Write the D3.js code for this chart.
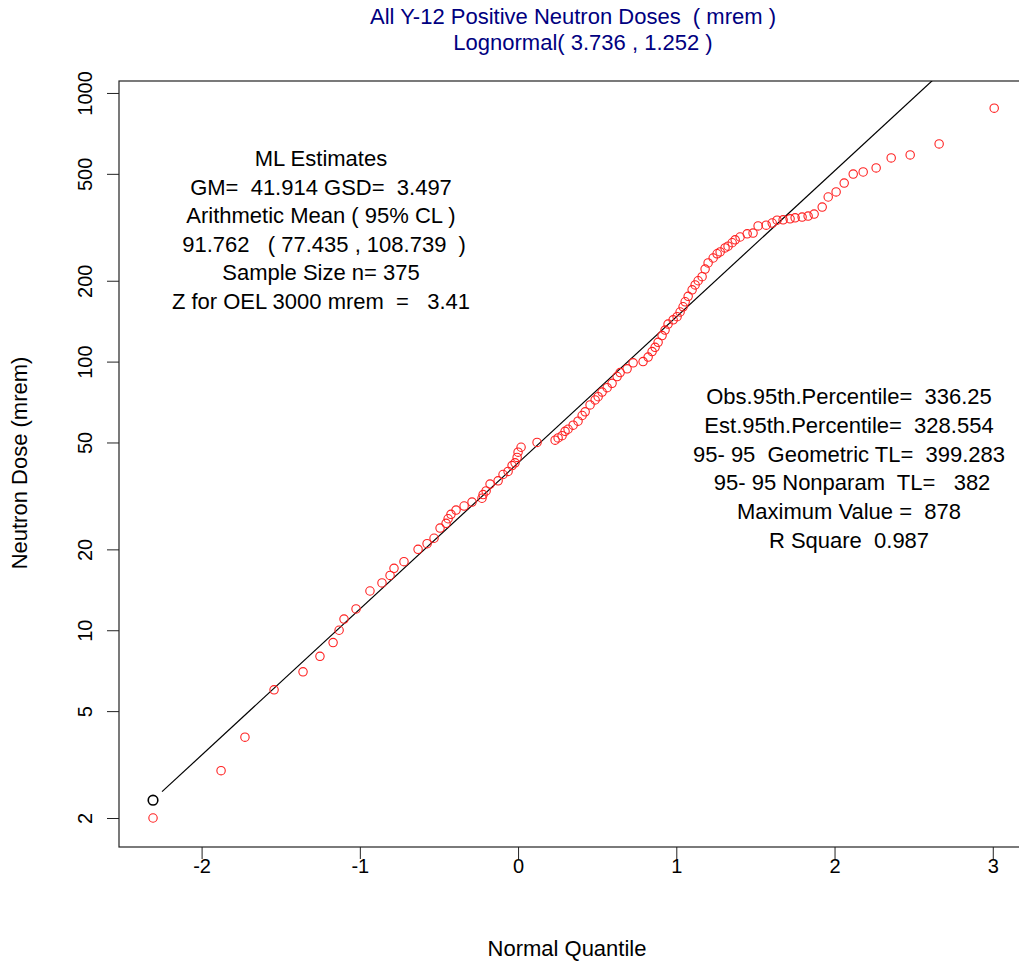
<!DOCTYPE html>
<html>
<head>
<meta charset="utf-8">
<script src="https://cdn.jsdelivr.net/npm/d3@7.9.0/dist/d3.min.js"></script>
<style>
  body { margin: 0; background: #fff; }
  svg { font-family: "Liberation Sans", Arial, sans-serif; }
  text { white-space: pre; }
</style>
</head>
<body>
<svg id="chart" width="1019" height="963"></svg>
<script>
const quantiles = [-2.307, -1.877, -1.726, -1.542, -1.359, -1.252, -1.169, -1.131, -1.100, -1.024,
  -0.936, -0.860, -0.809, -0.784, -0.721, -0.632, -0.575, -0.531, -0.493, -0.455,
  -0.442, -0.424, -0.392, -0.341, -0.291, -0.228, -0.221, -0.202, -0.177, -0.126,
  -0.095, -0.063, -0.038, -0.019, -0.006, 0.000, 0.019, 0.120, 0.234, 0.253,
  0.278, 0.297, 0.316, 0.348, 0.379, 0.405, 0.424, 0.455, 0.487, 0.506,
  0.531, 0.563, 0.594, 0.626, 0.645, 0.689, 0.727, 0.790, 0.822, 0.847,
  0.866, 0.885, 0.910, 0.929, 0.948, 0.980, 1.005, 1.024, 1.043, 1.056,
  1.075, 1.100, 1.119, 1.138, 1.163, 1.182, 1.201, 1.233, 1.258, 1.277,
  1.308, 1.327, 1.353, 1.372, 1.403, 1.448, 1.485, 1.517, 1.568, 1.606,
  1.637, 1.675, 1.719, 1.751, 1.795, 1.833, 1.871, 1.922, 1.960, 2.010,
  2.061, 2.118, 2.181, 2.263, 2.358, 2.478, 2.661, 3.009];
const doses = [2, 3, 4, 6, 7, 8, 9, 10, 11, 12,
  14, 15, 16, 17, 18, 20, 21, 22, 24, 25,
  26, 27, 28, 29, 30, 31, 32, 33, 35, 36,
  38, 39, 41, 42, 44, 46, 48, 50, 51, 52,
  53, 55, 56, 58, 60, 63, 65, 69, 72, 74,
  77, 80, 83, 88, 91, 94, 99, 100, 104, 109,
  113, 118, 125, 131, 138, 143, 147, 153, 160, 167,
  175, 185, 193, 200, 207, 221, 233, 243, 252, 256,
  265, 269, 277, 284, 291, 299, 301, 320, 322, 328,
  336, 337, 340, 343, 345, 348, 354, 376, 410, 428,
  462, 499, 508, 526, 573, 588, 646, 878];

// highlighted first point (black)
const markQuantile = [-2.307];
const markDose = [2.33];

// fitted lognormal (meanlog, sdlog) and range of the fitted line
const fitParams = [3.736, 1.252];
const fitRange = [-2.25, 3.009];

const xTicks = [-2, -1, 0, 1, 2, 3];
const yTicks = [2, 5, 10, 20, 50, 100, 200, 500, 1000];

const titleLines = ["All Y-12 Positive Neutron Doses  ( mrem )", "Lognormal( 3.736 , 1.252 )"];
const leftStats = ["ML Estimates", "GM=  41.914 GSD=  3.497", "Arithmetic Mean ( 95% CL )",
  " 91.762   ( 77.435 , 108.739  )", "Sample Size n= 375", "Z for OEL 3000 mrem  =   3.41"];
const rightStats = ["Obs.95th.Percentile=  336.25", "Est.95th.Percentile=  328.554",
  "95- 95  Geometric TL=  399.283", " 95- 95 Nonparam  TL=   382", "Maximum Value =  878", "R Square  0.987"];

const svg = d3.select("#chart");
const box = { left: 119, right: 1026, top: 81, bottom: 847 };

const x = d3.scaleLinear().domain([-2.522, 3.21]).range([box.left, box.right]);
const y = d3.scaleLog().domain([1.56, 1108]).range([box.bottom, box.top]);

svg.append("clipPath").attr("id", "plot-clip")
  .append("rect")
  .attr("x", box.left).attr("y", box.top)
  .attr("width", box.right - box.left).attr("height", box.bottom - box.top);

// frame
svg.append("rect")
  .attr("x", box.left).attr("y", box.top)
  .attr("width", box.right - box.left).attr("height", box.bottom - box.top)
  .attr("fill", "none").attr("stroke", "#222").attr("stroke-width", 1.2);

// axes
const xAxis = svg.append("g")
  .attr("transform", `translate(0,${box.bottom})`)
  .call(d3.axisBottom(x).tickValues(xTicks).tickSize(12).tickFormat(d => String(d)));
xAxis.select(".domain").remove();
xAxis.selectAll("text").attr("y", 26).attr("dy", 0).attr("font-size", 20);

const yAxis = svg.append("g")
  .attr("transform", `translate(${box.left},0)`)
  .call(d3.axisLeft(y).tickValues(yTicks).tickSize(12).tickFormat(d => String(d)));
yAxis.select(".domain").remove();
yAxis.selectAll("text")
  .attr("transform", "rotate(-90)")
  .attr("x", 0).attr("y", -27).attr("dy", 0)
  .attr("text-anchor", "middle").attr("font-size", 20);
svg.selectAll(".tick line").attr("stroke", "#222");
svg.selectAll(".tick text").attr("fill", "#000").attr("font-family", "Liberation Sans, Arial, sans-serif");

svg.append("text")
  .attr("x", 567).attr("y", 956)
  .attr("text-anchor", "middle").attr("font-size", 22)
  .text("Normal Quantile");

svg.append("text")
  .attr("transform", "translate(27,463) rotate(-90)")
  .attr("text-anchor", "middle").attr("font-size", 22)
  .text("Neutron Dose (mrem)");

// title
svg.selectAll(".title").data(titleLines).enter().append("text")
  .attr("class", "title")
  .attr("x", (d, i) => i === 0 ? 573 : 583)
  .attr("y", (d, i) => 24 + i * 26)
  .attr("text-anchor", "middle").attr("font-size", 22)
  .attr("fill", "#00007f")
  .text(d => d);

// fitted line
const fitLine = d3.line()
  .x(d => x(d))
  .y(d => y(Math.exp(fitParams[0] + fitParams[1] * d)));
svg.append("path")
  .datum(fitRange)
  .attr("clip-path", "url(#plot-clip)")
  .attr("fill", "none").attr("stroke", "#000").attr("stroke-width", 1.2)
  .attr("d", fitLine);

// points
const pts = quantiles.map((q, i) => ({ q, v: doses[i] }));
svg.append("g").selectAll("circle")
  .data(pts).enter().append("circle")
  .attr("cx", d => x(d.q)).attr("cy", d => y(d.v))
  .attr("r", 4.2)
  .attr("fill", "none").attr("stroke", "#ff2020").attr("stroke-width", 1.1);

svg.append("g").selectAll("circle")
  .data(markQuantile.map((q, i) => ({ q, v: markDose[i] }))).enter().append("circle")
  .attr("cx", d => x(d.q)).attr("cy", d => y(d.v))
  .attr("r", 4.8)
  .attr("fill", "none").attr("stroke", "#000").attr("stroke-width", 1.6);

// statistics blocks
svg.append("g").selectAll("text")
  .data(leftStats).enter().append("text")
  .attr("x", 321).attr("y", (d, i) => 166 + i * 28.6)
  .attr("text-anchor", "middle").attr("font-size", 22)
  .text(d => d);

svg.append("g").selectAll("text")
  .data(rightStats).enter().append("text")
  .attr("x", 849).attr("y", (d, i) => 404 + i * 28.8)
  .attr("text-anchor", "middle").attr("font-size", 22)
  .text(d => d);
</script>
</body>
</html>
